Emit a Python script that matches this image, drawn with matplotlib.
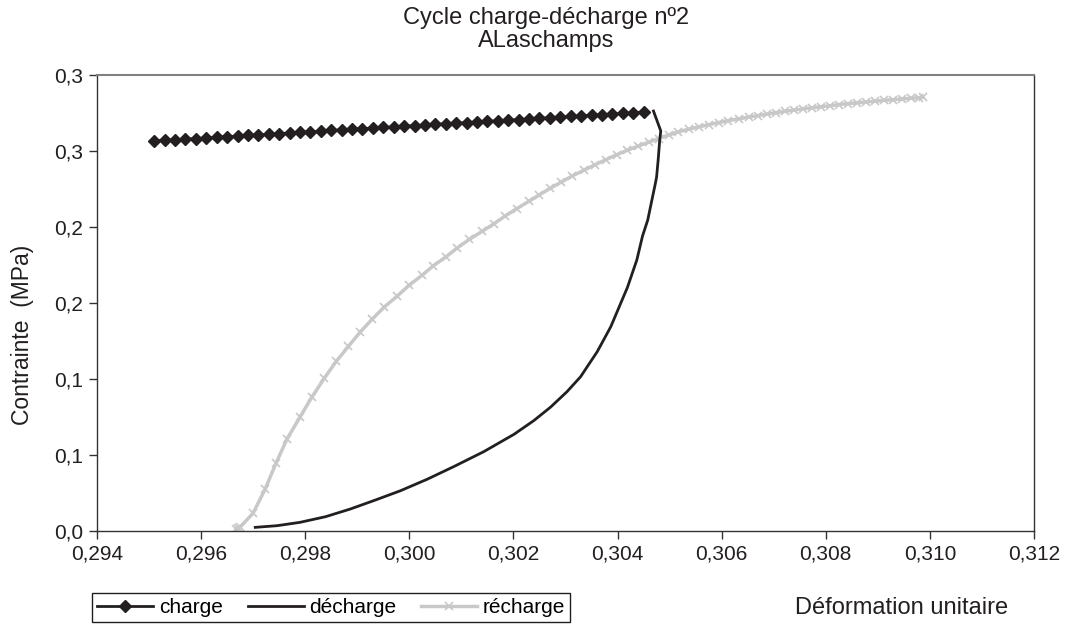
import matplotlib

matplotlib.use("Agg")
import matplotlib.pyplot as plt
from matplotlib.ticker import FuncFormatter

plt.rcParams["font.family"] = ["Liberation Sans", "DejaVu Sans"]

# --- data --------------------------------------------------------------------
charge_x = [
    0.2951, 0.2953, 0.2955, 0.2957, 0.2959, 0.2961, 0.2963, 0.2965, 0.2967, 0.2969,
    0.2971, 0.2973, 0.2975, 0.2977, 0.2979, 0.2981, 0.2983, 0.2985, 0.2987, 0.2989,
    0.2991, 0.2993, 0.2995, 0.2997, 0.2999, 0.3001, 0.3003, 0.3005, 0.3007, 0.3009,
    0.3011, 0.3013, 0.3015, 0.3017, 0.3019, 0.3021, 0.3023, 0.3025, 0.3027, 0.3029,
    0.3031, 0.3033, 0.3035, 0.3037, 0.3039, 0.3041, 0.3043, 0.3045,
]
charge_y = [
    0.2566, 0.2570, 0.2574, 0.2578, 0.2582, 0.2586, 0.2590, 0.2594, 0.2598, 0.2602,
    0.2606, 0.2610, 0.2614, 0.2618, 0.2622, 0.2627, 0.2631, 0.2635, 0.2639, 0.2643,
    0.2647, 0.2651, 0.2655, 0.2659, 0.2663, 0.2667, 0.2671, 0.2675, 0.2679, 0.2683,
    0.2687, 0.2691, 0.2695, 0.2699, 0.2703, 0.2707, 0.2711, 0.2715, 0.2719, 0.2723,
    0.2727, 0.2731, 0.2735, 0.2739, 0.2743, 0.2747, 0.2751, 0.2757,
]

decharge_x = [
    0.30469, 0.30483, 0.30481, 0.30478, 0.30475, 0.30472, 0.30466, 0.30458, 0.30448,
    0.30437, 0.30419, 0.30387, 0.30361, 0.30329, 0.30303, 0.30271, 0.30239, 0.30201,
    0.30143, 0.30085, 0.30034, 0.29983, 0.29935, 0.29887, 0.29839, 0.29790, 0.29746,
    0.29704,
]
decharge_y = [
    0.2763, 0.2632, 0.2572, 0.2441, 0.2329, 0.2276, 0.2178, 0.2046, 0.1941,
    0.1783, 0.1603, 0.1344, 0.1180, 0.1015, 0.0917, 0.0814, 0.0726, 0.0636,
    0.0522, 0.0423, 0.0340, 0.0265, 0.0204, 0.0145, 0.0094, 0.0057, 0.0035,
    0.0024,
]

recharge_x = [
    0.29667, 0.29671, 0.29675, 0.29700, 0.29723, 0.29744, 0.29765, 0.29790, 0.29813,
    0.29837, 0.29860, 0.29883, 0.29906, 0.29929, 0.29952, 0.29977, 0.30000, 0.30025,
    0.30046, 0.30071, 0.30092, 0.30115, 0.30140, 0.30162, 0.30183, 0.30206, 0.30229,
    0.30250, 0.30271, 0.30292, 0.30313, 0.30335, 0.30356, 0.30377, 0.30398, 0.30419,
    0.30440, 0.30460, 0.30479, 0.30498, 0.30517, 0.30537, 0.30556, 0.30575, 0.30594,
    0.30613, 0.30633, 0.30652, 0.30669, 0.30687, 0.30704, 0.30721, 0.30738, 0.30756,
    0.30773, 0.30790, 0.30808, 0.30825, 0.30842, 0.30860, 0.30877, 0.30894, 0.30912,
    0.30929, 0.30946, 0.30963, 0.30979, 0.30987,
]
recharge_y = [
    0.0013, 0.0020, 0.0026, 0.0118, 0.0276, 0.0447, 0.0605, 0.0750, 0.0882,
    0.1007, 0.1118, 0.1215, 0.1310, 0.1395, 0.1474, 0.1546, 0.1618, 0.1684,
    0.1745, 0.1805, 0.1862, 0.1918, 0.1972, 0.2020, 0.2070, 0.2120, 0.2168,
    0.2212, 0.2255, 0.2296, 0.2336, 0.2373, 0.2408, 0.2442, 0.2475, 0.2505,
    0.2533, 0.2558, 0.2582, 0.2605, 0.2626, 0.2644, 0.2659, 0.2673, 0.2687,
    0.2700, 0.2712, 0.2723, 0.2733, 0.2743, 0.2752, 0.2761, 0.2769, 0.2777,
    0.2784, 0.2791, 0.2798, 0.2805, 0.2811, 0.2817, 0.2822, 0.2828, 0.2833,
    0.2838, 0.2842, 0.2847, 0.2851, 0.2855,
]

y_ticks = [0.0, 0.05, 0.10, 0.15, 0.20, 0.25, 0.30]
y_tick_labels = ["0,0", "0,1", "0,1", "0,2", "0,2", "0,3", "0,3"]
x_ticks = [0.294, 0.296, 0.298, 0.300, 0.302, 0.304, 0.306, 0.308, 0.310, 0.312]

# --- figure ------------------------------------------------------------------
W, H = 1068, 628
fig = plt.figure(figsize=(W / 100, H / 100), dpi=100)
ax = fig.add_axes([97 / W, 1 - 531 / H, (1034 - 97) / W, (531 - 75) / H])

ax.plot(charge_x, charge_y, color="#231f20", lw=2, marker="D", ms=6,
        label="charge", zorder=3)
ax.plot(decharge_x, decharge_y, color="#231f20", lw=2, label="décharge", zorder=3)
ax.plot(recharge_x, recharge_y, color="#c8c8c8", lw=2.5, marker="x", ms=6,
        mew=1.2, label="récharge", zorder=2)

ax.set_xlim(0.294, 0.312)
ax.set_ylim(0.0, 0.30)
ax.set_xticks(x_ticks)
ax.xaxis.set_major_formatter(FuncFormatter(lambda v, _: f"{v:.3f}".replace(".", ",")))
ax.set_yticks(y_ticks)
ax.set_yticklabels(y_tick_labels)
ax.tick_params(direction="out", length=6, width=1, color="#333333",
               labelsize=15, labelcolor="#231f20", pad=4)

for side in ("left", "bottom", "right"):
    ax.spines[side].set_color("#333333")
    ax.spines[side].set_linewidth(1)
ax.spines["top"].set_color("#808080")
ax.spines["top"].set_linewidth(1.5)

# title (two lines), axis labels
fig.text(546 / W, 1 - 18 / H, "Cycle charge-décharge nº2", ha="center", va="center",
         fontsize=17, color="#231f20")
fig.text(546 / W, 1 - 41 / H, "ALaschamps", ha="center", va="center",
         fontsize=17, color="#231f20")
fig.text(23 / W, 1 - 335 / H, "Contrainte  (MPa)", rotation=90, ha="center",
         va="center", fontsize=16.5, color="#231f20")
fig.text(1008 / W, 1 - 608 / H, "Déformation unitaire", ha="right", va="center",
         fontsize=17, color="#231f20")

leg = fig.legend(loc="upper left", bbox_to_anchor=(92 / W, 1 - 593 / H), ncol=3,
                 fontsize=15, frameon=True, fancybox=False, framealpha=1,
                 edgecolor="#231f20", handlelength=2.7, handletextpad=0.25,
                 columnspacing=1.2, borderpad=0.25, borderaxespad=0)
leg.get_frame().set_linewidth(1)

fig.savefig("out.png", dpi=100)
